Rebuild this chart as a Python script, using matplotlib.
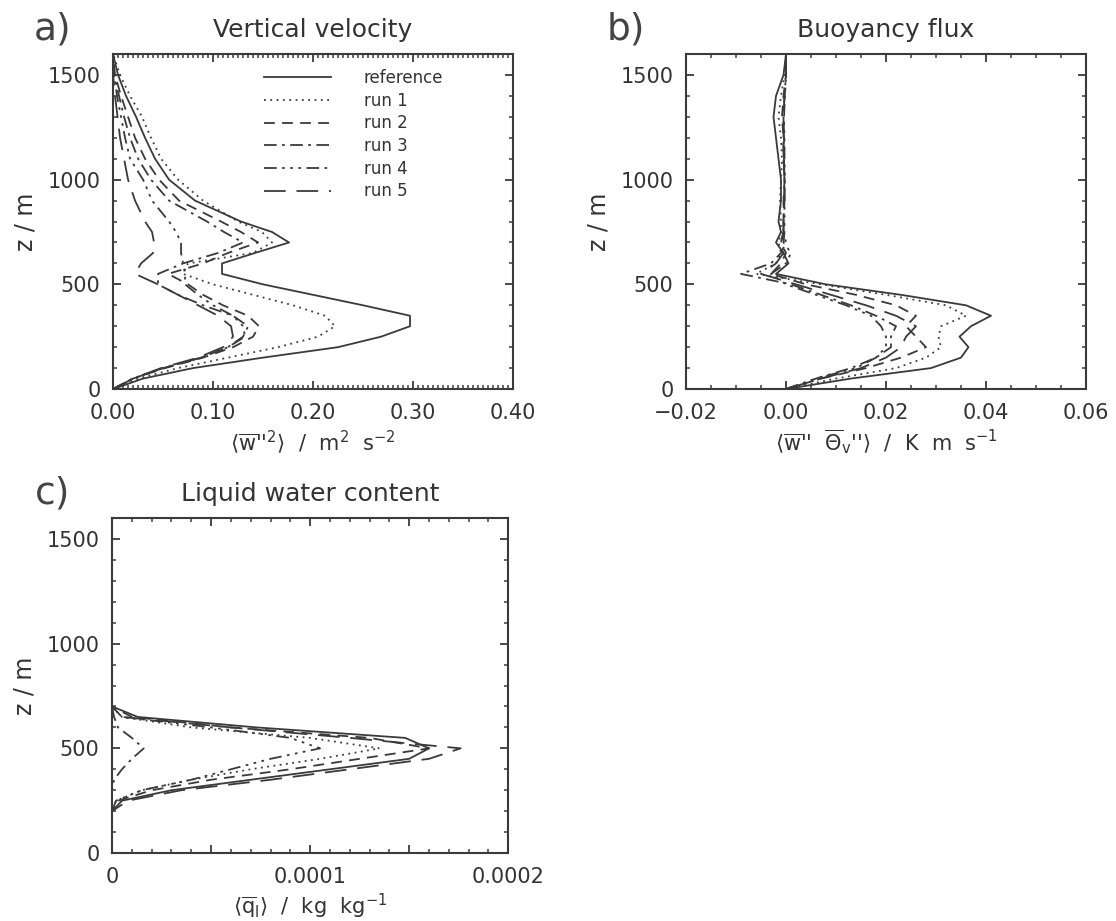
import matplotlib
matplotlib.use("Agg")
import matplotlib.pyplot as plt
from matplotlib.ticker import MultipleLocator

plt.rcParams['font.family'] = ['DejaVu Sans']
plt.rcParams['mathtext.default'] = 'regular'

INK = '#3a3a3a'

# heights (m) of the profile levels, panels a and b
z = [0, 50, 100, 150, 200, 250, 300, 350, 400, 450, 500, 550, 600, 650,
     700, 750, 800, 900, 1000, 1100, 1200, 1300, 1400, 1500, 1600]

names = ['reference', 'run 1', 'run 2', 'run 3', 'run 4', 'run 5']

# a) vertical velocity variance, m2 s-2
w_ref  = [0, 0.030, 0.080, 0.150, 0.225, 0.268, 0.297, 0.297, 0.250, 0.200, 0.150, 0.109, 0.109,
          0.142, 0.176, 0.159, 0.128, 0.082, 0.056, 0.042, 0.032, 0.023, 0.013, 0.005, 0]
w_run1 = [0, 0.025, 0.065, 0.115, 0.165, 0.205, 0.222, 0.212, 0.180, 0.140, 0.100, 0.070, 0.075,
          0.140, 0.159, 0.149, 0.125, 0.090, 0.065, 0.048, 0.038, 0.029, 0.017, 0.007, 0]
w_run2 = [0, 0.020, 0.052, 0.090, 0.120, 0.140, 0.146, 0.135, 0.110, 0.090, 0.075, 0.055, 0.090,
          0.115, 0.145, 0.128, 0.108, 0.066, 0.046, 0.032, 0.022, 0.015, 0.008, 0.002, 0]
w_run3 = [0, 0.020, 0.050, 0.088, 0.115, 0.130, 0.135, 0.120, 0.090, 0.065, 0.045, 0.045, 0.070,
          0.105, 0.130, 0.111, 0.094, 0.056, 0.038, 0.025, 0.017, 0.011, 0.006, 0.001, 0]
w_run4 = [0, 0.020, 0.050, 0.088, 0.115, 0.132, 0.130, 0.120, 0.100, 0.085, 0.072, 0.072, 0.070,
          0.068, 0.068, 0.063, 0.056, 0.039, 0.030, 0.017, 0.012, 0.008, 0.004, 0.001, 0]
w_run5 = [0, 0.020, 0.048, 0.085, 0.110, 0.120, 0.118, 0.105, 0.085, 0.065, 0.045, 0.022, 0.028,
          0.040, 0.041, 0.039, 0.032, 0.022, 0.015, 0.011, 0.007, 0.0045, 0.002, 0.0, 0]

# b) buoyancy flux, K m s-1
b_ref  = [0, 0.013, 0.029, 0.035, 0.0365, 0.0347, 0.037, 0.041, 0.036, 0.023, 0.008, -0.002, 0.0005,
          -0.0005, -0.002, -0.001, -0.0015, -0.001, -0.001, -0.0015, -0.002, -0.0025, -0.002, -0.0005, 0]
b_run1 = [0, 0.010, 0.022, 0.028, 0.031, 0.0305, 0.031, 0.036, 0.032, 0.020, 0.007, -0.006, -0.002,
          -0.001, -0.0015, -0.001, -0.001, -0.0012, -0.001, -0.0008, -0.001, -0.0015, -0.001, -0.0003, 0]
b_run2 = [0, 0.007, 0.016, 0.023, 0.028, 0.026, 0.024, 0.026, 0.022, 0.014, 0.004, -0.003, -0.001,
          0.0, -0.001, -0.0005, -0.0005, -0.0005, -0.0003, -0.0005, -0.0005, -0.0008, -0.0005, 0.0, 0]
b_run3 = [0, 0.006, 0.013, 0.018, 0.021, 0.021, 0.022, 0.018, 0.013, 0.007, 0.001, -0.009, -0.003,
          -0.001, 0.0, -0.0005, -0.0005, -0.0003, -0.0003, -0.0005, -0.0005, -0.0005, -0.0003, 0.0, 0]
b_run4 = [0, 0.006, 0.014, 0.018, 0.020, 0.020, 0.019, 0.017, 0.012, 0.006, 0.0, -0.003, 0.0,
          0.001, -0.0005, -0.0003, -0.0003, -0.0003, -0.0002, -0.0003, -0.0003, -0.0004, -0.0002, 0.0, 0]
b_run5 = [0, 0.007, 0.015, 0.020, 0.023, 0.024, 0.026, 0.022, 0.016, 0.009, 0.002, -0.005, -0.002,
          -0.0005, -0.001, -0.0005, -0.0005, -0.0004, -0.0003, -0.0004, -0.0004, -0.0005, -0.0003, 0.0, 0]

# c) liquid water content, kg kg-1
z_c = [0, 200, 250, 300, 350, 400, 450, 500, 550, 600, 650, 700, 750, 1600]
q_ref  = [0, 0, 0.000005, 0.00003, 0.00007, 0.00011, 0.00015, 0.00016, 0.000148, 0.000073, 0.000013, 0, 0, 0]
q_run1 = [0, 0, 0.000002, 0.000015, 0.00004, 0.00007, 0.000105, 0.000135, 0.0001, 0.00004, 0.000005, 0, 0, 0]
q_run2 = [0, 0, 0.000003, 0.00002, 0.00005, 0.00009, 0.000125, 0.00016, 0.00013, 0.00006, 0.00001, 0, 0, 0]
q_run3 = [0, 0, 0, 0, 0.000001, 0.000005, 0.00001, 0.000016, 0.00001, 0.000003, 0.000001, 0, 0, 0]
q_run4 = [0, 0, 0.000002, 0.000015, 0.00004, 0.00006, 0.00008, 0.000105, 0.00009, 0.00005, 0.000005, 0, 0, 0]
q_run5 = [0, 0, 0.000008, 0.000035, 0.00008, 0.00012, 0.00016, 0.000176, 0.00012, 0.00006, 0.000005, 0, 0, 0]

styles = ['-', (0, (1, 2.5)), (0, (6, 4)), (0, (7, 3, 1.5, 3)),
          (0, (7, 3, 1.5, 3, 1.5, 3, 1.5, 3)), (0, (12, 6))]


def setup(ax, letter, title, xlabel, xlim, xmajor, xminor, xfmt):
    ax.set_xlim(*xlim)
    ax.set_ylim(0, 1600)
    ax.xaxis.set_major_locator(MultipleLocator(xmajor))
    ax.xaxis.set_minor_locator(MultipleLocator(xminor))
    ax.yaxis.set_major_locator(MultipleLocator(500))
    ax.yaxis.set_minor_locator(MultipleLocator(100))
    ticks = [t for t in ax.get_xticks() if xlim[0] - 1e-12 <= t <= xlim[1] + 1e-12]
    ax.set_xticks(ticks, [xfmt(t) for t in ticks])
    ax.tick_params(which='both', direction='in', top=True, right=True, colors=INK,
                   labelcolor='#333333', labelsize=15)
    ax.tick_params(which='major', length=6, width=1.3)
    ax.tick_params(which='minor', length=3, width=1.1)
    ax.tick_params(axis='x', pad=10)
    ax.tick_params(axis='y', pad=9)
    for s in ax.spines.values():
        s.set_color(INK)
        s.set_linewidth(1.5)
    ax.text(0.5, 1.072, title, transform=ax.transAxes, ha='center', va='center',
            fontsize=18, color='#333333')
    ax.text(-0.15, 1.072, letter, transform=ax.transAxes, ha='center', va='center',
            fontsize=27, color='#444444')
    ax.text(0.5, -0.158, xlabel, transform=ax.transAxes, ha='center', va='center',
            fontsize=15, color='#333333')
    ax.text(-0.22, 0.5, 'z / m', transform=ax.transAxes, ha='center', va='center',
            rotation=90, fontsize=17, color='#333333')


def minus(s):
    return s.replace('-', '\u2212')


fig = plt.figure(figsize=(11.16, 9.21), dpi=100)
ax_a = fig.add_axes([0.1013, 0.5776, 0.3584, 0.3637])
ax_b = fig.add_axes([0.6147, 0.5776, 0.3584, 0.3637])
ax_c = fig.add_axes([0.1004, 0.0738, 0.3550, 0.3637])

for vals, ls, name in zip([w_ref, w_run1, w_run2, w_run3, w_run4, w_run5], styles, names):
    ax_a.plot(vals, z, ls=ls, lw=1.3, color=INK, label=name)
for vals, ls in zip([b_ref, b_run1, b_run2, b_run3, b_run4, b_run5], styles):
    ax_b.plot(vals, z, ls=ls, lw=1.3, color=INK)
for vals, ls in zip([q_ref, q_run1, q_run2, q_run3, q_run4, q_run5], styles):
    ax_c.plot(vals, z_c, ls=ls, lw=1.3, color=INK)

setup(ax_a, 'a)', 'Vertical velocity',
      r"$\langle\overline{w}$''$^{2}\rangle$  /  m$^{2}$  s$^{-2}$",
      (0, 0.4), 0.1, 0.005, lambda t: f'{t:.2f}')
setup(ax_b, 'b)', 'Buoyancy flux',
      r"$\langle\overline{w}$''  $\overline{\Theta}_{v}$''$\rangle$  /  K  m  s$^{-1}$",
      (-0.02, 0.06), 0.02, 0.005, lambda t: minus(f'{t:.2f}'))
setup(ax_c, 'c)', 'Liquid water content',
      r'$\langle\overline{q}_{l}\rangle$  /  kg  kg$^{-1}$',
      (0, 0.0002), 0.00005, 0.00001,
      lambda t: '' if round(t / 0.00005) % 2 else ('0' if t == 0 else f'{t:.4f}'))

leg = ax_a.legend(loc='upper left', bbox_to_anchor=(0.377, 0.955), frameon=False,
                  fontsize=12, handlelength=4.0, handletextpad=2.0, labelspacing=0.28,
                  borderpad=0, borderaxespad=0)
for t in leg.get_texts():
    t.set_color('#333333')

fig.savefig('out.png', dpi=100)
